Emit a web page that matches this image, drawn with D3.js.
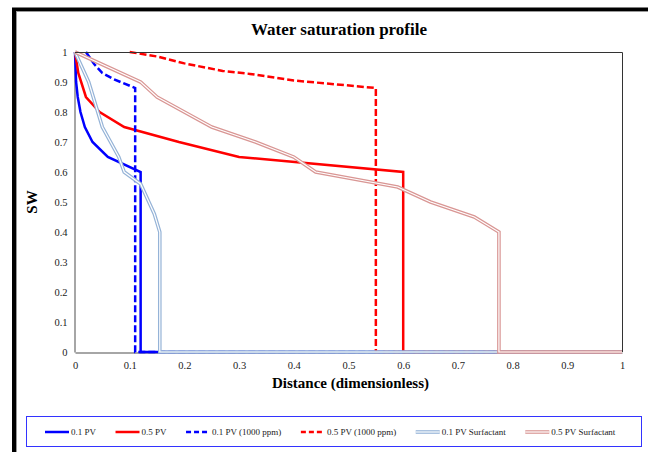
<!DOCTYPE html>
<html>
<head>
<meta charset="utf-8">
<script src="https://cdn.jsdelivr.net/npm/d3@7"></script>
<style>
  body { margin: 0; background: #fff; }
  svg { display: block; }
  svg text { font-family: "Liberation Serif", "DejaVu Serif", "Noto Serif", serif; }
</style>
</head>
<body>
<div id="chart"></div>
<script>
// data: [distance, SW]
var pv01 = [[0, 1], [0.002, 0.9], [0.005, 0.85], [0.01, 0.8], [0.018, 0.75], [0.032, 0.7], [0.06, 0.65], [0.12, 0.6], [0.12, 0], [1, 0]];
var pv05 = [[0, 1], [0.006, 0.93], [0.02, 0.85], [0.045, 0.8], [0.09, 0.75], [0.19, 0.7], [0.3, 0.65], [0.6, 0.6], [0.6, 0], [1, 0]];
var pv01ppm = [[0.02, 1], [0.035, 0.96], [0.05, 0.93], [0.07, 0.91], [0.11, 0.88], [0.11, 0], [1, 0]];
var pv05ppm = [[0.1, 1], [0.15, 0.985], [0.2, 0.962], [0.27, 0.937], [0.32, 0.927], [0.4, 0.905], [0.55, 0.88], [0.55, 0], [1, 0]];
var pv01surf = [[0, 1], [0.025, 0.9], [0.05, 0.75], [0.08, 0.65], [0.09, 0.6], [0.12, 0.56], [0.145, 0.46], [0.155, 0.4], [0.155, 0], [1, 0]];
var pv05surf = [[0, 1], [0.12, 0.9], [0.15, 0.85], [0.25, 0.75], [0.33, 0.7], [0.4, 0.65], [0.44, 0.6], [0.59, 0.55], [0.65, 0.5], [0.73, 0.45], [0.775, 0.4], [0.775, 0], [1, 0]];

var seriesNames = ["0.1 PV", "0.5 PV", "0.1 PV (1000 ppm)", "0.5 PV (1000 ppm)", "0.1 PV Surfactant", "0.5 PV Surfactant"];
var seriesData = [pv01, pv05, pv01ppm, pv05ppm, pv01surf, pv05surf];
var seriesColors = ["#0000ff", "#ff0000", "#0000ff", "#ff0000", "#95b3d7", "#d99694"];
var seriesStyle = ["solid", "solid", "dash", "dash", "double", "double"];

var xTicks = [0, 0.1, 0.2, 0.3, 0.4, 0.5, 0.6, 0.7, 0.8, 0.9, 1];
var yTicks = [0, 0.1, 0.2, 0.3, 0.4, 0.5, 0.6, 0.7, 0.8, 0.9, 1];

var width = 648, height = 452;
var plot = { left: 75, right: 622, top: 52, bottom: 352 };
var serif = "'Liberation Serif', 'DejaVu Serif', 'Noto Serif', serif";

var svg = d3.select("#chart")
    .append("svg")
    .attr("width", width)
    .attr("height", height);

// outer frame
svg.append("rect")
    .attr("x", 14).attr("y", 9.5)
    .attr("width", 700).attr("height", 500)
    .attr("fill", "#fff")
    .attr("stroke", "#000")
    .attr("stroke-width", 4);
svg.append("rect")
    .attr("x", 16.5).attr("y", 11.5)
    .attr("width", 700).attr("height", 500)
    .attr("fill", "none")
    .attr("stroke", "#999")
    .attr("stroke-width", 1);

var x = d3.scaleLinear().domain([0, 1]).range([plot.left, plot.right]);
var y = d3.scaleLinear().domain([0, 1]).range([plot.bottom, plot.top]);

var xAxis = svg.append("g")
    .attr("transform", "translate(0," + (plot.bottom + 0.5) + ")")
    .call(d3.axisBottom(x).tickValues(xTicks).tickSize(0).tickPadding(9).tickFormat(d3.format("")));
var yAxis = svg.append("g")
    .attr("transform", "translate(" + (plot.left - 0.5) + ",0)")
    .call(d3.axisLeft(y).tickValues(yTicks).tickSize(0).tickPadding(7).tickFormat(d3.format("")));

[xAxis, yAxis].forEach(function (a) {
    a.attr("font-family", serif);
    a.select(".domain").attr("stroke", "#888").attr("stroke-width", 1.5);
    a.selectAll("text")
        .attr("font-size", 10.5)
        .attr("fill", "#222");
});

var line = d3.line()
    .x(function (d) { return x(d[0]); })
    .y(function (d) { return y(d[1]); });

var lines = svg.append("g");

seriesData.forEach(function (data, i) {
    var style = seriesStyle[i];
    var p = lines.append("path")
        .datum(data)
        .attr("d", line)
        .attr("fill", "none")
        .attr("stroke", seriesColors[i])
        .attr("stroke-linejoin", "miter")
        .attr("stroke-width", style == "double" ? 3.6 : 2.5);
    if (style == "dash") {
        p.attr("stroke-dasharray", "7,3");
    }
    if (style == "double") {
        lines.append("path")
            .datum(data)
            .attr("d", line)
            .attr("fill", "none")
            .attr("stroke", "#fff")
            .attr("stroke-width", 1.2);
    }
});

// plot border top/right, drawn over the lines
svg.append("path")
    .attr("d", "M" + plot.left + "," + (plot.top + 0.5) + "H" + (plot.right + 0.5) + "V" + plot.bottom)
    .attr("fill", "none")
    .attr("stroke", "#333")
    .attr("stroke-width", 1);

// title and axis labels
svg.append("text")
    .attr("x", 339).attr("y", 35)
    .attr("text-anchor", "middle")
    .attr("font-size", 17)
    .attr("font-weight", "bold")
    .text("Water saturation profile");

svg.append("text")
    .attr("x", (plot.left + plot.right) / 2 + 2).attr("y", 388)
    .attr("text-anchor", "middle")
    .attr("font-size", 15)
    .attr("font-weight", "bold")
    .text("Distance (dimensionless)");

svg.append("text")
    .attr("transform", "translate(37," + 202 + ") rotate(-90)")
    .attr("text-anchor", "middle")
    .attr("font-size", 15)
    .attr("font-weight", "bold")
    .text("SW");

// legend
var legend = svg.append("g");
legend.append("rect")
    .attr("x", 26.5).attr("y", 416.5)
    .attr("width", 615).attr("height", 30)
    .attr("fill", "#fff")
    .attr("stroke", "#3333ff")
    .attr("stroke-width", 1);

var lx = 45, ly = 432;
seriesNames.forEach(function (name, i) {
    var g = legend.append("g").attr("transform", "translate(" + lx + "," + ly + ")");
    var style = seriesStyle[i];
    var s = g.append("line")
        .attr("x1", 0).attr("x2", 24)
        .attr("stroke", seriesColors[i])
        .attr("stroke-width", style == "double" ? 3.6 : 2.5);
    if (style == "dash") s.attr("stroke-dasharray", "5,3");
    if (style == "double") {
        g.append("line")
            .attr("x1", 0).attr("x2", 24)
            .attr("stroke", "#fff")
            .attr("stroke-width", 1.2);
    }
    var t = g.append("text")
        .attr("x", 26).attr("dy", "0.35em")
        .attr("font-size", 9)
        .attr("fill", "#222")
        .text(name);
    lx += 26 + t.node().getComputedTextLength() + 19.5;
});
</script>
</body>
</html>
